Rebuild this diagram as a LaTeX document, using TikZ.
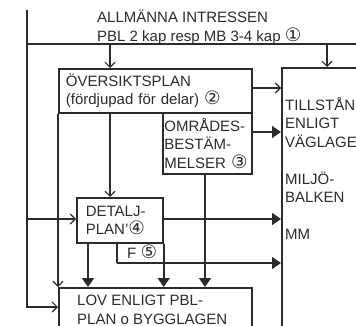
\documentclass[tikz,border=0pt]{standalone}
\usepackage{fontspec}
\setmainfont{Liberation Sans}
\newfontfamily\circfont{DejaVu Sans}
\usetikzlibrary{arrows.meta}
\definecolor{scanink}{HTML}{2B2B2B}
\newcommand{\cnum}[1]{{\circfont\fontsize{18.5}{18.5}\selectfont #1}}
\tikzset{
  box/.style={draw=scanink,line width=1.7pt,inner sep=0pt,anchor=north west,
    font=\fontsize{15}{18.5}\selectfont,text=scanink,align=left},
  boxtext/.style={font=\fontsize{15}{18.5}\selectfont,text=scanink,align=left,
    inner sep=0pt,anchor=north west},
  thin link/.style={draw=scanink,line width=1.1pt,-{Straight Barb[length=5pt,width=10pt]}},
  thick link/.style={draw=scanink,line width=1.7pt,-{Triangle[length=9pt,width=12pt]}},
  plain line/.style={draw=scanink,line width=1.1pt}
}

\begin{document}
\begin{tikzpicture}[x=1pt,y=-1pt]
  \useasboundingbox (0,0) rectangle (356,326);
  \clip (0,0) rectangle (356,326);
  \coordinate (topL) at (27,10);
  \coordinate (busL) at (27,44);
  \coordinate (busR) at (356,44);
  \coordinate (colA) at (110,0);
  \coordinate (colD) at (88,0);
  \coordinate (colO) at (205,0);
  \coordinate (colT) at (327,0);
  \coordinate (rowO) at (0,88);
  \coordinate (rowM) at (0,132);
  \coordinate (rowD) at (0,219);
  \coordinate (rowL) at (0,307);
  \coordinate (fcorner) at (117,263);

  \node[boxtext] (allm) at (97,10) {ALLMÄNNA INTRESSEN\\PBL 2 kap resp MB 3-4 kap \cnum{①}};
  \node[box,minimum width=193pt,minimum height=44pt,text width=179pt,inner xsep=7pt]
    (over) at (58,68) {ÖVERSIKTSPLAN\\(fördjupad för delar) \cnum{②}};
  \node[box,minimum width=89pt,minimum height=61pt,text width=86pt,inner xsep=1.5pt]
    (omr) at (162,112) {OMRÅDES-\\BESTÄM-\\MELSER \cnum{③}};
  \node[box,minimum width=86pt,minimum height=45pt,text width=68pt,inner xsep=9pt]
    (detalj) at (76,197) {DETALJ-\\PLAN’\cnum{④}};
  \node[box,minimum width=193pt,minimum height=60pt] (lov) at (58,287) {};
  \node[box,minimum width=100pt,minimum height=280pt] (till) at (281,67) {};
  \node[boxtext] (lovtxt) at (77,295) {LOV ENLIGT PBL-\\PLAN o BYGGLAGEN};
  \node[boxtext] (tilltxt) at (285,97) {TILLSTÅN\\ENLIGT\\VÄGLAGE\\[18.5pt]MILJÖ-\\BALKEN\\[18.5pt]MM};
  \node[boxtext] (ftxt) at (127,245) {F \cnum{⑤}};

  \draw[plain line] (busL) -- (busR);
  \draw[thin link] (topL) |- ([yshift=-20pt]lov.north west);
  \draw[thin link] (busL -| colA) -- (over.north -| colA);
  \draw[thin link] (busL -| colT) -- (till.north -| colT);
  \draw[thin link] (over.east |- rowO) -- (till.west |- rowO);
  \draw[thin link] (over.south -| colA) -- (detalj.north -| colA);
  \draw[thin link] (over.south west) -- (lov.north west);
  \draw[thin link] (busL |- rowD) -- (detalj.west |- rowD);
  \draw[thick link] (omr.east |- rowM) -- (till.west |- rowM);
  \draw[thick link] (detalj.east |- rowD) -- (till.west |- rowD);
  \draw[draw=scanink,line width=1.7pt] (detalj.south -| fcorner) -- (fcorner);
  \draw[thick link] (fcorner) -- (till.west |- fcorner);
  \draw[thick link] (detalj.south -| colD) -- (lov.north -| colD);
  \draw[thick link] (detalj.south east) -- (lov.north -| detalj.east);
  \draw[thick link] (omr.south -| colO) -- (lov.north -| colO);
\end{tikzpicture}
\end{document}
